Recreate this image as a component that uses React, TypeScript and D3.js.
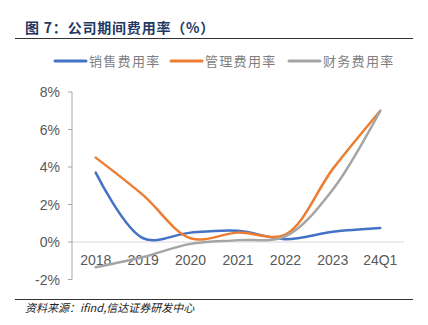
import React from "react";
import * as d3 from "d3";

const categories = ["2018", "2019", "2020", "2021", "2022", "2023", "24Q1"];
const sellingRate = [3.7, 0.2, 0.5, 0.6, 0.15, 0.55, 0.75];
const adminRate = [4.5, 2.5, 0.2, 0.5, 0.4, 3.9, 7.0];
const financeRate = [-1.35, -0.8, -0.1, 0.1, 0.3, 2.8, 7.0];
const yTicks = [-2, 0, 2, 4, 6, 8];
const seriesNames = ["销售费用率", "管理费用率", "财务费用率"];
const seriesColors = ["#4472C4", "#ED7D31", "#A5A5A5"];

const W = 428;
const H = 325;
const left = 72;
const right = 404;
const top = 92;
const bottom = 279.5;

export default function App() {
  const x = d3.scalePoint<string>().domain(categories).range([left, right]).padding(0.5);
  const y = d3.scaleLinear().domain([-2, 8]).range([bottom, top]);
  const line = d3
    .line<number>()
    .x((_, i) => x(categories[i]) as number)
    .y((d) => y(d))
    .curve(d3.curveCatmullRom.alpha(0.5));
  const all = [sellingRate, adminRate, financeRate];
  const font = "'Liberation Sans', Arial, sans-serif";
  const cjk = "'Noto Sans CJK SC', sans-serif";
  const legendX = [55, 171, 289];
  return (
    <svg width={W} height={H} style={{ position: "absolute", left: 0, top: 0, background: "#fff" }}>
      <text x={25} y={33} fontFamily={cjk} fontWeight="bold" fontSize={14} fill="#1F3864" letterSpacing={0.8}>
        图 7：公司期间费用率（%）
      </text>
      <line x1={15} x2={413} y1={38.5} y2={38.5} stroke="#333" strokeWidth={1} />
      {seriesNames.map((n, i) => (
        <g key={n}>
          <line x1={legendX[i]} x2={legendX[i] + 31} y1={61} y2={61} stroke={seriesColors[i]} strokeWidth={3} strokeLinecap="round" />
          <text x={legendX[i] + 34} y={65.5} fontFamily={cjk} fontSize={13} fill="#7f7f7f" letterSpacing={1.3}>
            {n}
          </text>
        </g>
      ))}
      <line x1={left} x2={right} y1={y(0)} y2={y(0)} stroke="#d9d9d9" strokeWidth={1} />
      <line x1={left} x2={left} y1={top} y2={bottom} stroke="#a6a6a6" strokeWidth={1} />
      {yTicks.map((t) => (
        <g key={t}>
          <line x1={left - 4} x2={left} y1={y(t)} y2={y(t)} stroke="#a6a6a6" strokeWidth={1} />
          <text x={left - 12} y={y(t) + 5} textAnchor="end" fontFamily={font} fontSize={14} fill="#595959">
            {t + "%"}
          </text>
        </g>
      ))}
      {categories.map((c) => (
        <text key={c} x={x(c) as number} y={264.5} textAnchor="middle" fontFamily={font} fontSize={14} fill="#595959">
          {c}
        </text>
      ))}
      {all.map((s, i) => (
        <path key={i} d={line(s) || ""} fill="none" stroke={seriesColors[i]} strokeWidth={2.5} strokeLinecap="round" />
      ))}
      <line x1={15} x2={413} y1={299.5} y2={299.5} stroke="#333" strokeWidth={1} />
      <text x={25} y={312} fontFamily={cjk} fontStyle="italic" fontSize={11} fill="#222">
        资料来源：ifind,信达证券研发中心
      </text>
    </svg>
  );
}
